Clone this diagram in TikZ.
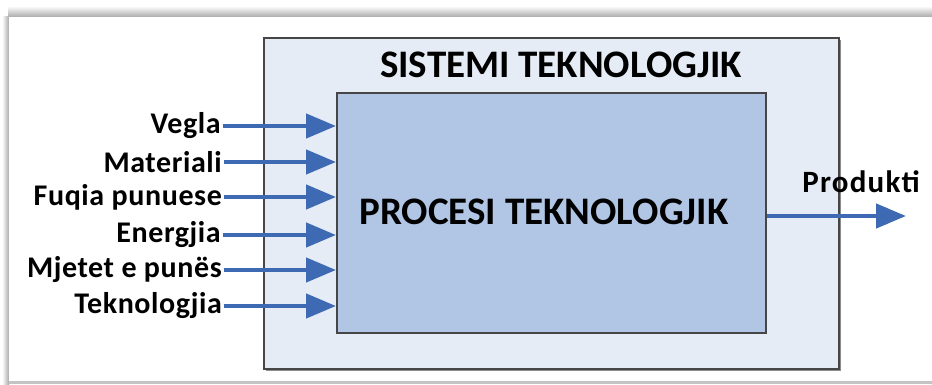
\documentclass[tikz,border=0pt]{standalone}
\usepackage{fontspec}
\setmainfont{Carlito}
\usetikzlibrary{arrows.meta}
\definecolor{sysfill}{RGB}{230,236,246}
\definecolor{procfill}{RGB}{177,197,229}
\definecolor{boxline}{RGB}{70,70,70}
\definecolor{flow}{RGB}{61,106,179}
\definecolor{framegray}{RGB}{170,170,170}
\tikzset{
  sysbox/.style={draw=boxline, line width=2pt, fill=sysfill},
  procbox/.style={draw=boxline, line width=1.8pt, fill=procfill},
  inlabel/.style={anchor=east, inner sep=0pt,
    font=\fontsize{30}{32}\selectfont\bfseries\addfontfeatures{LetterSpace=2}},
  flowarrow/.style={draw=flow, line width=4.5pt,
    -{Triangle[length=30pt,width=24pt]}, shorten <=1.5pt},
  titletext/.style={inner sep=0pt, font=\fontsize{39}{41}\selectfont\bfseries}
}
\begin{document}
\begin{tikzpicture}[x=1pt,y=-1pt]
  \useasboundingbox (0,0) rectangle (932,385);
  % page frame with soft shadow
  \fill[white] (0,0) rectangle (932,385);
  \shade[top color=white, bottom color=framegray] (8,6) rectangle (932,17);
  \shade[left color=white, right color=framegray] (2,17) rectangle (9,384);
  \fill[framegray!70] (9,381) rectangle (932,384);
  \fill[white] (9,17) rectangle (932,381);
  % outer system box with drop shadow
  \fill[black!45] (266,40) rectangle (841,371);
  \node[sysbox, minimum width=575pt, minimum height=331pt, anchor=north west, inner sep=0pt]
    (sys) at (263,37) {};
  \node[titletext] (systitle) at (561,65) {SISTEMI TEKNOLOGJIK};
  % inner process box
  \node[procbox, minimum width=429pt, minimum height=240pt, anchor=north west, inner sep=0pt]
    (proc) at (336,92) {};
  \node[titletext] (proctitle) at (544,212) {PROCESI TEKNOLOGJIK};
  % inputs
  \node[inlabel] (in1) at (221,126) {Vegla};
  \node[inlabel] (in2) at (222,162) {Materiali};
  \node[inlabel] (in3) at (222,197) {Fuqia punuese};
  \node[inlabel] (in4) at (221,235) {Energjia};
  \node[inlabel] (in5) at (222,270) {Mjetet e punës};
  \node[inlabel] (in6) at (222,306) {Teknologjia};
  \foreach \i in {1,...,6}
    \draw[flowarrow] (in\i.east) -- (in\i.east -| proc.west);
  % output
  \coordinate (out) at (906,216);
  \draw[flowarrow, shorten <=0pt] (proc.east |- out) -- (out);
  \node[inlabel, anchor=center, font=\fontsize{31}{33}\selectfont\bfseries\addfontfeatures{LetterSpace=4}]
    (prod) at (861,182) {Produkti};
\end{tikzpicture}
\end{document}
